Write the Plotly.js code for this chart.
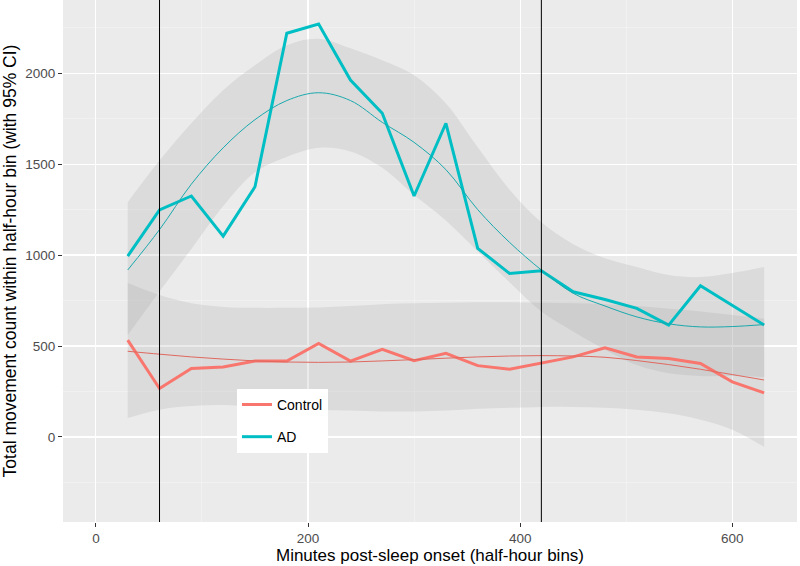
<!DOCTYPE html>
<html>
<head>
<meta charset="utf-8">
<script src="https://cdn.plot.ly/plotly-3.0.1.min.js"></script>
<style>
  html, body { margin: 0; padding: 0; background: #fff; }
  #chart { width: 800px; height: 566px; }
</style>
</head>
<body>
<div id="chart"></div>
<script>
// half-hour bins (minutes after sleep onset)
var minutes = [30, 60, 90, 120, 150, 180, 210, 240, 270, 300, 330, 360, 390, 420, 450, 480, 510, 540, 570, 600, 630];

// observed totals
var control = [532, 266, 376, 385, 417, 417, 514, 417, 481, 419, 460, 392, 372, 407, 440, 490, 440, 431, 404, 303, 242];
var ad = [994, 1248, 1325, 1104, 1376, 2220, 2271, 1963, 1780, 1325, 1725, 1037, 899, 914, 798, 756, 707, 615, 831, 723, 615];

// loess fits and 95% CI
var controlFit = [471, 455, 440, 428, 418, 412, 410, 412, 418, 425, 433, 440, 445, 447, 445, 438, 420, 398, 372, 343, 313];
var controlLo = [104, 150, 170, 175, 165, 155, 150, 145, 140, 140, 145, 155, 160, 165, 165, 160, 150, 130, 95, 40, -55];
var controlHi = [846, 780, 735, 715, 710, 710, 712, 720, 730, 735, 738, 740, 740, 738, 735, 730, 720, 705, 690, 670, 650];

var adFit = [918, 1140, 1390, 1590, 1745, 1850, 1893, 1850, 1730, 1620, 1470, 1250, 1070, 918, 790, 720, 660, 622, 605, 607, 618];
var adLo = [560, 800, 1034, 1270, 1456, 1540, 1590, 1570, 1480, 1330, 1190, 1020, 850, 690, 580, 480, 395, 350, 335, 335, 330];
var adHi = [1291, 1520, 1725, 1907, 2044, 2154, 2190, 2137, 2071, 1989, 1834, 1593, 1360, 1180, 1060, 983, 934, 890, 879, 901, 934];

var vlines = [60, 420];
var yTicks = [0, 500, 1000, 1500, 2000];
var xTicks = [0, 200, 400, 600];

var red = '#F8766D';
var teal = '#00BFC4';
var band = 'rgba(153,153,153,0.2)';

function ribbon(lo, hi) {
    return [
        { x: minutes, y: lo, type: 'scatter', mode: 'lines', line: { width: 0, shape: 'spline' }, showlegend: false, hoverinfo: 'skip' },
        { x: minutes, y: hi, type: 'scatter', mode: 'lines', line: { width: 0, shape: 'spline' }, fill: 'tonexty', fillcolor: band, showlegend: false, hoverinfo: 'skip' }
    ];
}

var data = [].concat(
    ribbon(controlLo, controlHi),
    ribbon(adLo, adHi),
    [
        { x: minutes, y: control, type: 'scatter', mode: 'lines', name: 'Control', legendgroup: 'c', line: { color: red, width: 3 } },
        { x: minutes, y: ad, type: 'scatter', mode: 'lines', name: 'AD', legendgroup: 'a', line: { color: teal, width: 3 } },
        { x: minutes, y: controlFit, type: 'scatter', mode: 'lines', line: { color: '#E0685F', width: 1, shape: 'spline' }, showlegend: false },
        { x: minutes, y: adFit, type: 'scatter', mode: 'lines', line: { color: '#1AA9AD', width: 1, shape: 'spline' }, showlegend: false }
    ]
);

var shapes = vlines.map(function (v) {
    return { type: 'line', xref: 'x', yref: 'paper', x0: v, x1: v, y0: 0, y1: 1, line: { color: '#000', width: 1 }, layer: 'above' };
});

var axisBase = {
    showgrid: true, gridcolor: '#FFFFFF', gridwidth: 1.2,
    zeroline: false, showline: false,
    ticks: 'outside', ticklen: 4, tickcolor: '#333333', tickwidth: 1,
    tickfont: { family: 'Liberation Sans, Arial, sans-serif', size: 13.5, color: '#4D4D4D' }
};

var layout = {
    width: 800, height: 566,
    margin: { l: 63, r: 3, t: 0, b: 44 },
    paper_bgcolor: '#FFFFFF',
    plot_bgcolor: '#EBEBEB',
    font: { family: 'Liberation Sans, Arial, sans-serif' },
    xaxis: Object.assign({}, axisBase, {
        range: [-31, 661],
        tickvals: xTicks,
        minor: { dtick: 100, tick0: 100, showgrid: true, gridcolor: '#F5F5F5', gridwidth: 0.6 },
        title: { text: 'Minutes post-sleep onset (half-hour bins)', font: { size: 17, color: '#000' }, standoff: 2 }
    }),
    yaxis: Object.assign({}, axisBase, {
        range: [-468, 2403],
        tickvals: yTicks,
        minor: { dtick: 500, tick0: 250, showgrid: true, gridcolor: '#F5F5F5', gridwidth: 0.6 },
        title: { text: 'Total movement count within half-hour bin (with 95% CI)', font: { size: 17.5, color: '#000' }, standoff: 4 }
    }),
    shapes: shapes,
    showlegend: true,
    legend: {
        x: 0.237, y: 0.255, xanchor: 'left', yanchor: 'top',
        bgcolor: '#FFFFFF', borderwidth: 0,
        font: { size: 14, color: '#000' },
        traceorder: 'grouped', tracegroupgap: 11,
        itemwidth: 30
    }
};

Plotly.newPlot('chart', data, layout, { displayModeBar: false, staticPlot: true });
</script>
</body>
</html>
